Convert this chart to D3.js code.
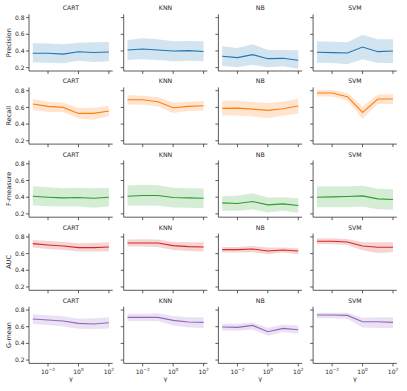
<!DOCTYPE html>
<html lang="en">
<head>
<meta charset="UTF-8">
<title></title>
<style>
    body { margin: 0; background: #fff; }
    svg { font-family: "DejaVu Sans", sans-serif; }
    .spine { stroke: #333; stroke-width: 0.8px; fill: none; }
    .tick line { stroke: #333; stroke-width: 0.8px; }
    .tick-label { font-size: 6px; fill: #262626; }
    .title { font-size: 6.2px; fill: #262626; text-anchor: middle; }
    .axis-label { font-size: 6.5px; fill: #262626; text-anchor: middle; }
    .band { opacity: 0.2; stroke: none; }
    .line { fill: none; stroke-width: 1.1px; }
</style>
</head>
<body>
<script src="https://d3js.org/d3.v7.min.js"></script>
<script>
const gammas = [1e-3, 1e-2, 1e-1, 1e0, 1e1, 1e2];
const models = ['CART', 'KNN', 'NB', 'SVM'];
const metrics = ['Precision', 'Recall', 'F-measure', 'AUC', 'G-mean'];
const colors = ['#1f77b4', '#ff7f0e', '#2ca02c', '#d62728', '#9467bd'];
const yTicks = [0.2, 0.4, 0.6, 0.8];
const xTicks = [-2, 0, 2];

// each: [CART, KNN, NB, SVM]
const precisionMean = [
    [0.372, 0.372, 0.362, 0.390, 0.382, 0.388],
    [0.412, 0.424, 0.412, 0.400, 0.404, 0.394],
    [0.336, 0.320, 0.356, 0.308, 0.312, 0.288],
    [0.384, 0.380, 0.376, 0.448, 0.392, 0.400]];
const precisionHigh = [
    [0.492, 0.490, 0.480, 0.500, 0.504, 0.508],
    [0.532, 0.552, 0.540, 0.516, 0.520, 0.516],
    [0.456, 0.436, 0.480, 0.412, 0.412, 0.408],
    [0.516, 0.512, 0.504, 0.596, 0.540, 0.540]];
const precisionLow = [
    [0.264, 0.260, 0.252, 0.284, 0.268, 0.276],
    [0.292, 0.300, 0.292, 0.276, 0.284, 0.276],
    [0.224, 0.204, 0.236, 0.204, 0.216, 0.188],
    [0.260, 0.256, 0.240, 0.300, 0.256, 0.256]];

const recallMean = [
    [0.640, 0.612, 0.600, 0.528, 0.528, 0.556],
    [0.692, 0.692, 0.668, 0.596, 0.612, 0.620],
    [0.588, 0.592, 0.580, 0.564, 0.584, 0.616],
    [0.772, 0.772, 0.728, 0.540, 0.700, 0.700]];
const recallHigh = [
    [0.700, 0.668, 0.656, 0.592, 0.596, 0.620],
    [0.748, 0.740, 0.724, 0.660, 0.668, 0.676],
    [0.680, 0.680, 0.664, 0.652, 0.668, 0.708],
    [0.812, 0.808, 0.772, 0.612, 0.756, 0.760]];
const recallLow = [
    [0.568, 0.544, 0.544, 0.468, 0.452, 0.496],
    [0.636, 0.632, 0.612, 0.532, 0.556, 0.560],
    [0.504, 0.504, 0.492, 0.472, 0.500, 0.528],
    [0.732, 0.732, 0.684, 0.464, 0.640, 0.640]];

const fMean = [
    [0.412, 0.400, 0.392, 0.396, 0.388, 0.400],
    [0.412, 0.420, 0.420, 0.396, 0.392, 0.388],
    [0.332, 0.324, 0.348, 0.308, 0.320, 0.300],
    [0.400, 0.404, 0.408, 0.416, 0.380, 0.372]];
const fHigh = [
    [0.532, 0.520, 0.508, 0.512, 0.508, 0.512],
    [0.540, 0.548, 0.544, 0.512, 0.508, 0.504],
    [0.412, 0.416, 0.448, 0.396, 0.400, 0.388],
    [0.528, 0.528, 0.528, 0.536, 0.500, 0.496]];
const fLow = [
    [0.304, 0.292, 0.288, 0.288, 0.272, 0.288],
    [0.300, 0.300, 0.296, 0.276, 0.272, 0.268],
    [0.236, 0.236, 0.252, 0.216, 0.236, 0.212],
    [0.280, 0.280, 0.280, 0.288, 0.256, 0.248]];

const aucMean = [
    [0.720, 0.704, 0.692, 0.672, 0.672, 0.680],
    [0.728, 0.728, 0.728, 0.696, 0.684, 0.680],
    [0.648, 0.648, 0.656, 0.632, 0.644, 0.632],
    [0.748, 0.748, 0.740, 0.692, 0.676, 0.676]];
const aucHigh = [
    [0.764, 0.752, 0.740, 0.724, 0.728, 0.736],
    [0.768, 0.772, 0.768, 0.740, 0.736, 0.736],
    [0.680, 0.680, 0.692, 0.672, 0.672, 0.664],
    [0.784, 0.784, 0.776, 0.736, 0.736, 0.736]];
const aucLow = [
    [0.672, 0.656, 0.644, 0.624, 0.624, 0.628],
    [0.684, 0.684, 0.680, 0.644, 0.632, 0.624],
    [0.612, 0.612, 0.616, 0.592, 0.612, 0.592],
    [0.712, 0.712, 0.704, 0.640, 0.608, 0.616]];

const gMean = [
    [0.692, 0.680, 0.668, 0.640, 0.632, 0.648],
    [0.712, 0.712, 0.712, 0.676, 0.656, 0.652],
    [0.596, 0.592, 0.616, 0.540, 0.580, 0.564],
    [0.740, 0.740, 0.736, 0.660, 0.660, 0.652]];
const gHigh = [
    [0.748, 0.736, 0.724, 0.696, 0.700, 0.712],
    [0.756, 0.756, 0.760, 0.728, 0.712, 0.712],
    [0.636, 0.636, 0.652, 0.588, 0.624, 0.616],
    [0.768, 0.768, 0.768, 0.708, 0.712, 0.712]];
const gLow = [
    [0.632, 0.620, 0.604, 0.576, 0.572, 0.580],
    [0.668, 0.668, 0.668, 0.616, 0.592, 0.584],
    [0.556, 0.552, 0.568, 0.492, 0.536, 0.516],
    [0.700, 0.700, 0.696, 0.592, 0.584, 0.584]];

const means = [precisionMean, recallMean, fMean, aucMean, gMean];
const highs = [precisionHigh, recallHigh, fHigh, aucHigh, gHigh];
const lows = [precisionLow, recallLow, fLow, aucLow, gLow];

const width = 407;
const height = 391;
const panelW = 83.7;
const panelH = 56.7;
const left0 = 29;
const top0 = 14.3;
const colStep = 94.7;
const rowStep = 73.1;

const xScale = d3.scaleLog()
    .domain([Math.pow(10, -3.25), Math.pow(10, 2.25)])
    .range([0, panelW]);
const yScale = d3.scaleLinear()
    .domain([0.16, 0.84])
    .range([panelH, 0]);

const svg = d3.select('body')
    .append('svg')
    .attr('width', width)
    .attr('height', height);

const area = d3.area()
    .x(d => xScale(d.g))
    .y0(d => yScale(d.lo))
    .y1(d => yScale(d.hi));
const line = d3.line()
    .x(d => xScale(d.g))
    .y(d => yScale(d.m));

metrics.forEach((metric, r) => {
    models.forEach((model, c) => {
        const panel = svg.append('g')
            .attr('transform', `translate(${left0 + c * colStep}, ${top0 + r * rowStep})`);
        const data = gammas.map((g, i) => ({
            g: g,
            m: means[r][c][i],
            hi: highs[r][c][i],
            lo: lows[r][c][i],
        }));

        panel.append('path')
            .datum(data)
            .attr('class', 'band')
            .attr('fill', colors[r])
            .attr('d', area);
        panel.append('path')
            .datum(data)
            .attr('class', 'line')
            .attr('stroke', colors[r])
            .attr('d', line);

        // y ticks
        const yt = panel.selectAll('.ytick')
            .data(yTicks)
            .enter().append('g')
            .attr('class', 'tick ytick')
            .attr('transform', d => `translate(0, ${yScale(d)})`);
        yt.append('line').attr('x1', -3).attr('x2', 0);
        if (c === 0) {
            yt.append('text')
                .attr('class', 'tick-label')
                .attr('x', -4.5)
                .attr('dy', '0.35em')
                .attr('text-anchor', 'end')
                .text(d => d.toFixed(1));
        }

        // x ticks
        const xt = panel.selectAll('.xtick')
            .data(xTicks)
            .enter().append('g')
            .attr('class', 'tick xtick')
            .attr('transform', d => `translate(${xScale(Math.pow(10, d))}, ${panelH})`);
        xt.append('line').attr('y1', 0).attr('y2', 3);
        if (r === metrics.length - 1) {
            const label = xt.append('text')
                .attr('class', 'tick-label')
                .attr('y', 10.5)
                .attr('text-anchor', 'middle');
            label.append('tspan').text('10');
            label.append('tspan')
                .attr('dy', -2.5)
                .attr('font-size', '4.3px')
                .text(d => d < 0 ? '\u2212' + Math.abs(d) : d);
            panel.append('text')
                .attr('class', 'axis-label')
                .attr('x', panelW / 2)
                .attr('y', panelH + 18)
                .text('\u03b3');
        }

        panel.append('path')
            .attr('class', 'spine')
            .attr('d', `M0,0V${panelH}H${panelW}`);

        panel.append('text')
            .attr('class', 'title')
            .attr('x', panelW / 2)
            .attr('y', -4)
            .text(model);

        if (c === 0) {
            panel.append('text')
                .attr('class', 'axis-label')
                .attr('transform', `translate(-18, ${panelH / 2}) rotate(-90)`)
                .text(metric);
        }
    });
});
</script>
</body>
</html>
